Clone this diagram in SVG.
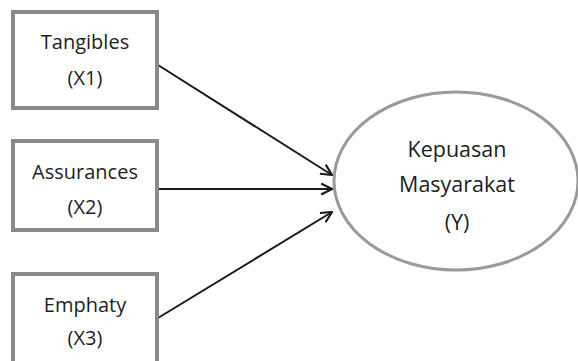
<svg xmlns="http://www.w3.org/2000/svg" width="578" height="361" viewBox="0 0 578 361">
<defs>
<style>
.box{fill:#fff;stroke:#8a8a8a;stroke-width:4}
.ell{fill:#fff;stroke:#9a9a9a;stroke-width:3}
.t{font-family:"Open Sans","Liberation Sans",sans-serif;font-size:20px;fill:#1e1e1e;text-anchor:middle}
.e{font-size:21.5px}
.c{stroke:#1a1a1a;stroke-width:2;fill:none;marker-end:url(#ah)}
</style>
<marker id="ah" viewBox="0 0 12 12" refX="11" refY="6" markerWidth="13" markerHeight="13" markerUnits="userSpaceOnUse" orient="auto">
<path d="M1,1 L11,6 L1,11" fill="none" stroke="#1a1a1a" stroke-width="2"/>
</marker>
</defs>
<rect width="578" height="361" fill="#fff"/>
<g id="connectors">
<line class="c" x1="158" y1="65" x2="332" y2="175"/>
<line class="c" x1="158" y1="189" x2="332" y2="189"/>
<line class="c" x1="158" y1="318" x2="332" y2="212"/>
</g>
<g id="tangibles">
<rect class="box" x="13" y="12" width="144" height="96"/>
<text class="t" x="85" y="49">Tangibles</text>
<text class="t" x="85" y="85">(X1)</text>
</g>
<g id="assurances">
<rect class="box" x="13" y="141" width="144" height="89"/>
<text class="t" x="85" y="179">Assurances</text>
<text class="t" x="85" y="214">(X2)</text>
</g>
<g id="emphaty">
<rect class="box" x="13" y="274" width="144" height="92"/>
<text class="t" x="85" y="312">Emphaty</text>
<text class="t" x="85" y="345">(X3)</text>
</g>
<g id="kepuasan">
<ellipse class="ell" cx="456" cy="181" rx="122" ry="89"/>
<text class="t e" x="457" y="157">Kepuasan</text>
<text class="t e" x="457" y="192">Masyarakat</text>
<text class="t e" x="457" y="230">(Y)</text>
</g>
</svg>
